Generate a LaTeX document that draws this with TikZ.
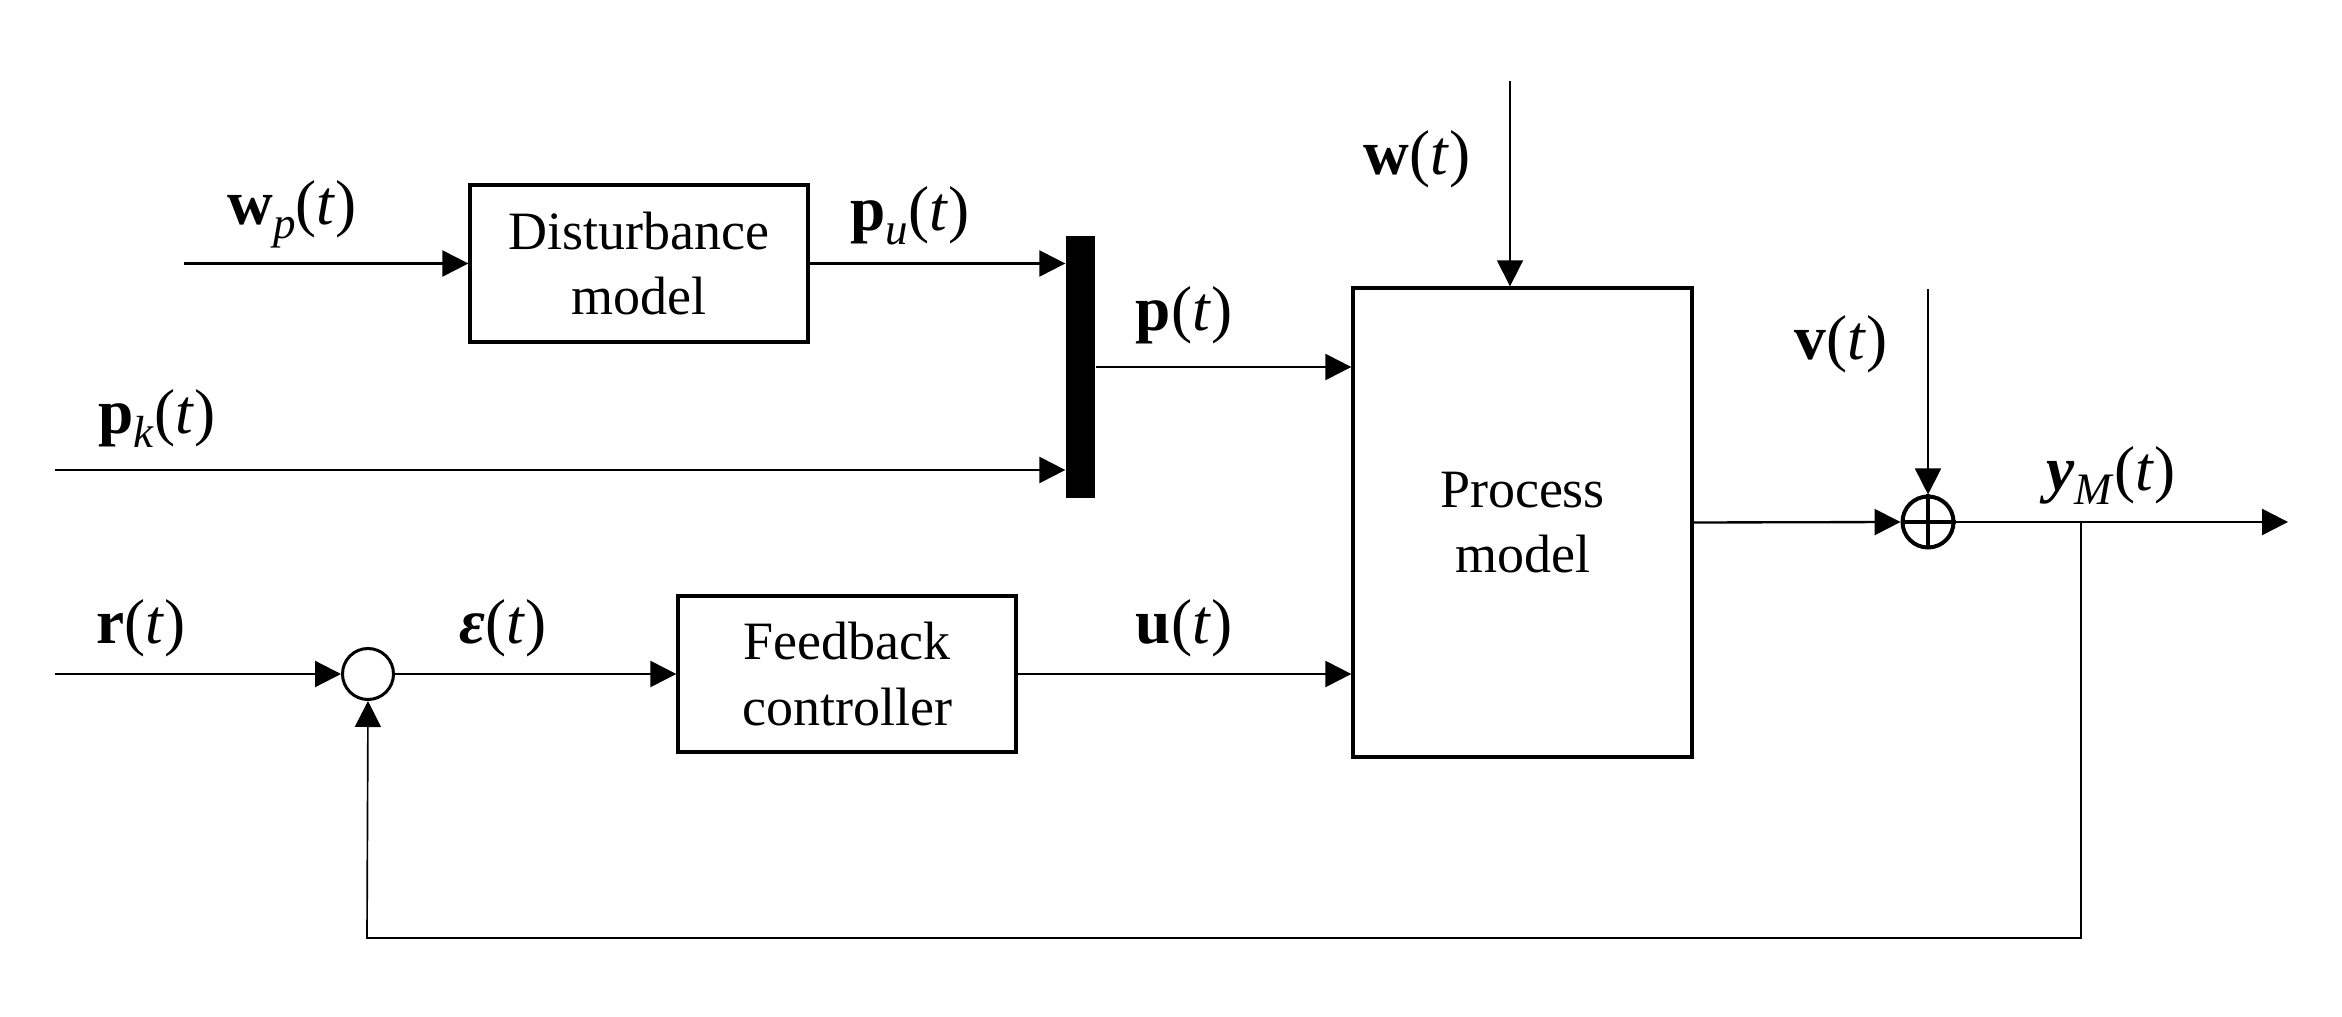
\documentclass[tikz,border=0pt]{standalone}
\usepackage{fontspec}
\setmainfont{Liberation Serif}
\usetikzlibrary{arrows.meta}
\newcommand\mysub[1]{\raisebox{-0.22em}{\fontsize{13.5}{13.5}\selectfont #1}}
\begin{document}
\begin{tikzpicture}[x=0.3pt,y=-0.3pt,
  blk/.style={draw,line width=1pt,inner sep=0pt,align=center,font=\fontsize{16.2}{19.6}\selectfont},
  arr/.style={-{Triangle[length=7.8pt,width=7.8pt]},line width=0.7pt},
  thinarr/.style={-{Triangle[length=7.8pt,width=7.8pt]},line width=0.5pt},
  lab/.style={anchor=base,inner sep=0pt,font=\fontsize{19}{22}\selectfont}]
\useasboundingbox (0,0) rectangle (2342,1017);

% blocks
\node[blk,minimum width=101.4pt,minimum height=47.1pt] (dist) at (639,263.5) {Disturbance\\model};
\node[blk,minimum width=101.7pt,minimum height=140.7pt] (proc) at (1522.5,522.5) {Process\\model};
\node[blk,minimum width=101.4pt,minimum height=46.8pt] (fb) at (847,674) {Feedback\\controller};
\node[fill,inner sep=0pt,minimum width=8.7pt,minimum height=78.6pt] (mux) at (1080.5,367) {};
\node[circle,draw,line width=0.9pt,inner sep=0pt,minimum size=15.3pt] (s1) at (368,674) {};
\node[circle,draw,line width=1.2pt,inner sep=0pt,minimum size=15.3pt] (s2) at (1928,522) {};
\draw[line width=1.2pt] (s2.north) -- (s2.south) (s2.west) -- (s2.east);

% free ends
\coordinate (wpin) at (184,263.5);
\coordinate (pkin) at (55,470);
\coordinate (rin) at (55,674);
\coordinate (wtop) at (1510,81);
\coordinate (vtop) at (1928,289);
\coordinate (yout) at (2288,522);
\coordinate (br) at (2081,522);
\coordinate (fbl) at (367,938);

% connectors
\draw[arr] (wpin) -- (dist.west);
\draw[arr] (dist.east) -- (dist.east -| mux.west);
\draw[arr] (pkin) -- (pkin -| mux.west);
\draw[arr] (mux.east) -- (mux.east -| proc.west);
\draw[arr] (rin) -- (s1.west);
\draw[arr] (s1.east) -- (fb.west);
\draw[arr] (fb.east) -- (fb.east -| proc.west);
\draw[thinarr] (wtop) -- (wtop |- proc.north);
\draw[arr] (proc.east) -- (s2.west);
\draw[thinarr] (vtop) -- (s2.north);
\draw[arr] (s2.east) -- (yout);
\draw[thinarr] (br) |- (fbl) -- (s1.south);

% labels
\node[lab] (lwp) at (292,225) {\textbf{w}\mysub{\textit{p}}(\textit{t})};
\node[lab] (lpu) at (910,231) {\textbf{p}\mysub{\textit{u}}(\textit{t})};
\node[lab] (lp) at (1184,331) {\textbf{p}(\textit{t})};
\node[lab] (lpk) at (157,434) {\textbf{p}\mysub{\textit{k}}(\textit{t})};
\node[lab] (lw) at (1417,175) {\textbf{w}(\textit{t})};
\node[lab] (lv) at (1841,360) {\textbf{v}(\textit{t})};
\node[lab] (ly) at (2111,491) {\textbf{\textit{y}}\mysub{\textit{M}}(\textit{t})};
\node[lab] (lr) at (141,643) {\textbf{r}(\textit{t})};
\node[lab] (le) at (503,643) {\textbf{\textit{ε}}(\textit{t})};
\node[lab] (lu) at (1184,643) {\textbf{u}(\textit{t})};
\end{tikzpicture}
\end{document}
